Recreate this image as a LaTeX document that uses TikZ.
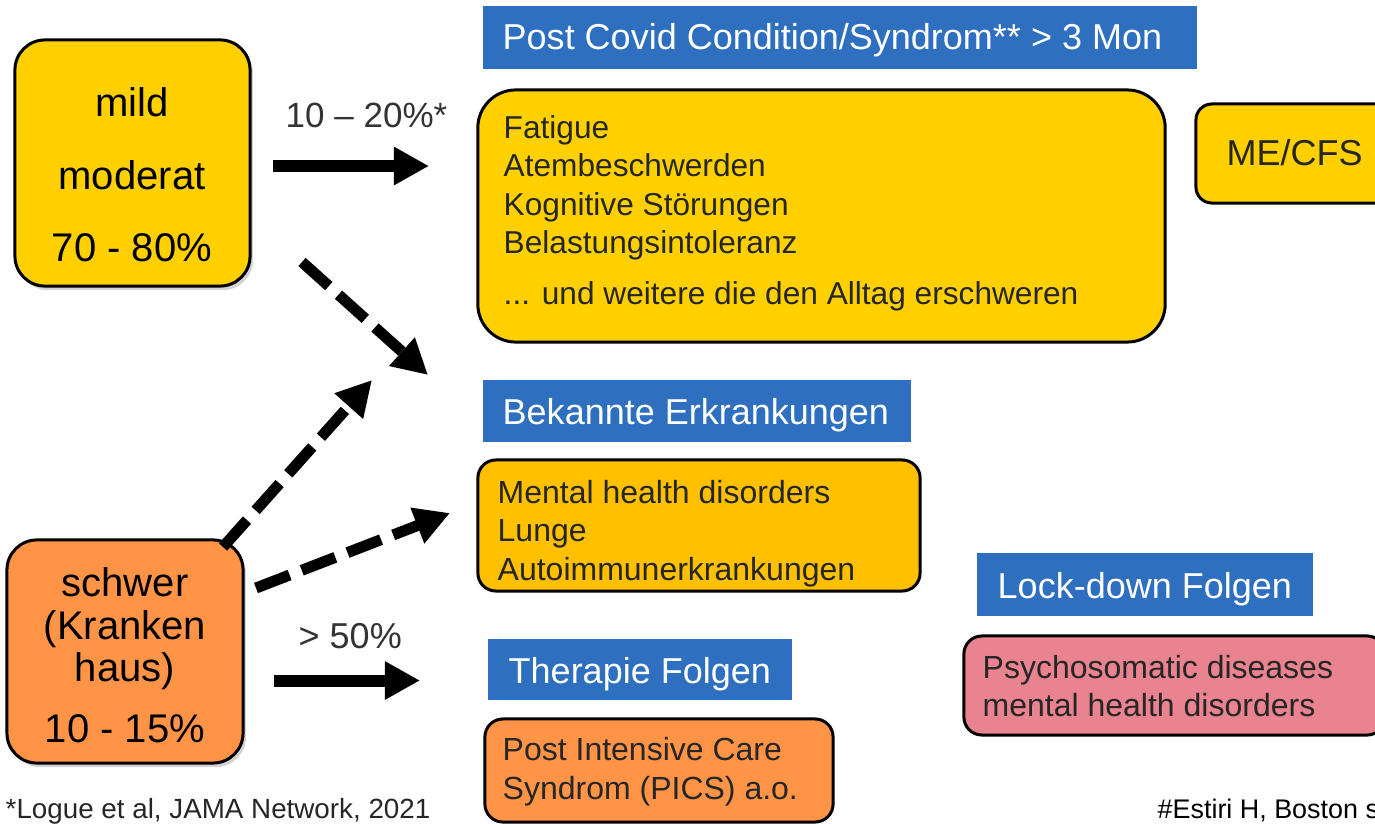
\documentclass[tikz,border=0pt]{standalone}
\usepackage{fontspec}
\setmainfont{Liberation Sans}
\usetikzlibrary{arrows.meta,shadows}
\definecolor{cYel}{HTML}{FFD000}
\definecolor{cYelB}{HTML}{FFC000}
\definecolor{cOrg}{HTML}{FF9447}
\definecolor{cPink}{HTML}{E8838F}
\definecolor{cBlue}{HTML}{2E6FC0}
\definecolor{cTxt}{HTML}{262626}
\definecolor{cLab}{HTML}{333333}
\newcommand\myFbig{\fontsize{11.38}{20.63}\selectfont}
\newcommand\myFsch{\fontsize{11.38}{12.09}\selectfont}
\newcommand\myFmid{\fontsize{10.24}{12}\selectfont}
\newcommand\myFlab{\fontsize{9.96}{12}\selectfont}
\newcommand\myFsm{\fontsize{9.1}{10.81}\selectfont}
\newcommand\myFtiny{\fontsize{7.97}{9.5}\selectfont}
\begin{document}
\begin{tikzpicture}[x=0.01cm,y=-0.01cm,
  box/.style={draw=black, line width=0.03cm, rounded corners=#1, inner sep=0pt},
  shbox/.style={box=#1, drop shadow={shadow xshift=0.03cm, shadow yshift=-0.04cm, opacity=0.35}},
  titlebox/.style={fill=cBlue, inner sep=0pt},
  titletxt/.style={anchor=base west, inner sep=0pt, text=white, font=\myFmid},
  boxtxt/.style={anchor=west, inner sep=0pt, align=left, text=cTxt, font=\myFsm},
  solidarrow/.style={line width=0.12cm, -{Triangle[length=0.35cm,width=0.36cm]}},
  dasharrow/.style={line width=0.11cm, dash pattern=on 0.36cm off 0.13cm, -{Triangle[length=0.35cm,width=0.36cm]}},
  labtxt/.style={anchor=base west, inner sep=0pt, text=cLab, font=\myFlab}
]
\useasboundingbox (0,0) rectangle (1375,824);
\clip (0,0) rectangle (1375,824);

% left boxes
\node[shbox=0.3cm, fill=cYel, minimum width=2.35cm, minimum height=2.46cm] (mild) at (132.5,163) {};
\node[align=center, inner sep=0pt, font=\myFbig] (mildtxt) at (132,175) {mild\\moderat\\70 - 80\%};
\node[shbox=0.3cm, fill=cOrg, minimum width=2.36cm, minimum height=2.23cm] (schwer) at (125,651.5) {};
\node[align=center, inner sep=0pt, font=\myFsch] (schwertxt) at (125,655.5) {schwer\\(Kranken\\haus)\\[5.2pt]10 - 15\%};

% titles
\node[titlebox, minimum width=7.14cm, minimum height=0.63cm] (t1) at (840,37.5) {};
\node[titletxt] (t1txt) at (502,50) {Post Covid Condition/Syndrom** > 3 Mon};
\node[titlebox, minimum width=4.28cm, minimum height=0.62cm] (t2) at (697,411) {};
\node[titletxt] (t2txt) at (502,424) {Bekannte Erkrankungen};
\node[titlebox, minimum width=3.04cm, minimum height=0.61cm] (t3) at (640,669.5) {};
\node[titletxt] (t3txt) at (508,683) {Therapie Folgen};
\node[titlebox, minimum width=3.36cm, minimum height=0.63cm] (t4) at (1145,584.5) {};
\node[titletxt] (t4txt) at (997,598) {Lock-down Folgen};

% content boxes
\node[box=0.38cm, fill=cYel, minimum width=6.87cm, minimum height=2.52cm] (fat) at (821.5,216) {};
\node[boxtxt, font=\fontsize{9.0}{10.85}\selectfont] (fattxt) at (503,213.4) {Fatigue\\Atembeschwerden\\Kognitive Störungen\\Belastungsintoleranz\\[3.7pt]... und weitere die den Alltag erschweren};
\node[box=0.16cm, fill=cYel, minimum width=2.34cm, minimum height=0.99cm] (me) at (1313,153.5) {};
\node[titletxt, text=cTxt] (metxt) at (1226,165) {ME/CFS};
\node[box=0.18cm, fill=cYelB, minimum width=4.42cm, minimum height=1.31cm] (bek) at (699,525.5) {};
\node[boxtxt, font=\fontsize{9.1}{10.95}\selectfont] (bektxt) at (497,533.5) {Mental health disorders\\Lunge\\Autoimmunerkrankungen};
\node[box=0.18cm, fill=cOrg, minimum width=3.48cm, minimum height=1.03cm] (pics) at (659,770.5) {};
\node[boxtxt, font=\fontsize{9.1}{11.1}\selectfont] (picstxt) at (502,772.2) {Post Intensive Care\\Syndrom (PICS) a.o.};
\node[box=0.18cm, fill=cPink, minimum width=4.21cm, minimum height=0.99cm] (pink) at (1174.5,685.5) {};
\node[boxtxt] (pinktxt) at (982,686) {Psychosomatic diseases\\mental health disorders};

% arrows
\coordinate (a1s) at (273,166);
\coordinate (a1e) at (429,166);
\coordinate (a2s) at (274,680.5);
\coordinate (a2e) at (420,680.5);
\coordinate (d1s) at (302,262);
\coordinate (d1e) at (428,375);
\coordinate (d2s) at (223,547);
\coordinate (d2e) at (372,380);
\coordinate (d3s) at (256,588);
\coordinate (d3e) at (450,513);
\draw[solidarrow] (a1s) -- (a1e);
\draw[solidarrow] (a2s) -- (a2e);
\draw[dasharrow] (d1s) -- (d1e);
\draw[dasharrow] (d2s) -- (d2e);
\draw[dasharrow] (d3s) -- (d3e);
\node[labtxt] (l1) at (285,127) {10 – 20\%*};
\node[labtxt, font=\myFmid] (l2) at (298,648) {> 50\%};

% footnotes
\node[anchor=base west, inner sep=0pt, font=\fontsize{7.9}{9.5}\selectfont, text=cTxt] (fn1) at (5,818) {*Logue et al, JAMA Network, 2021};
\node[anchor=base west, inner sep=0pt, font=\fontsize{7.65}{9.5}\selectfont, text=black] (fn2) at (1157,818) {\#Estiri H, Boston s};
\end{tikzpicture}
\end{document}
